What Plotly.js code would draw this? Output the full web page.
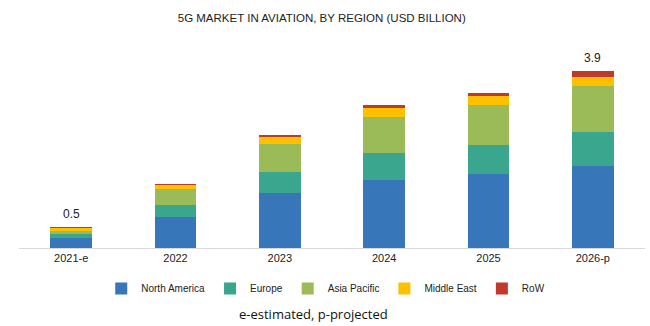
<!DOCTYPE html>
<html>
<head>
<meta charset="utf-8">
<script src="https://cdn.plot.ly/plotly-3.0.1.min.js"></script>
<style>html,body{margin:0;padding:0;background:#fff;}#chart{width:650px;height:326px;}</style>
</head>
<body>
<div id="chart"></div>
<script>
const categories = ["2021-e", "2022", "2023", "2024", "2025", "2026-p"];
const northAmerica = [0.23, 0.68, 1.21, 1.51, 1.63, 1.82];
const europe = [0.07, 0.27, 0.47, 0.59, 0.65, 0.74];
const asiaPacific = [0.08, 0.36, 0.62, 0.79, 0.87, 1.01];
const middleEast = [0.07, 0.08, 0.15, 0.20, 0.20, 0.21];
const row = [0.02, 0.02, 0.04, 0.06, 0.08, 0.12];
const totalLabels = ["0.5", "", "", "", "", "3.9"];

const series = [
  {name: "North America", y: northAmerica, color: "#3776b8"},
  {name: "Europe", y: europe, color: "#3aa68e"},
  {name: "Asia Pacific", y: asiaPacific, color: "#9bbb59"},
  {name: "Middle East", y: middleEast, color: "#ffc000"},
  {name: "RoW", y: row, color: "#c0392b"}
];

const traces = series.map(s => ({
  type: "bar", name: s.name, x: categories, y: s.y,
  marker: {color: s.color, line: {width: 0}},
  hoverinfo: "x+y+name"
}));

const totals = categories.map((c, i) => series.reduce((a, s) => a + s.y[i], 0));
const annotations = categories.map((c, i) => ({
  x: c, y: totals[i], text: totalLabels[i], showarrow: false,
  yanchor: "bottom", yshift: 4, font: {family: "Liberation Sans, Arial", size: 12, color: "#222"}
})).filter(a => a.text !== "");
annotations.push({
  xref: "paper", yref: "paper", x: 0.47, y: -0.318, xanchor: "center", yanchor: "middle",
  text: "e-estimated, p-projected", showarrow: false,
  font: {family: "Open Sans, Liberation Sans", size: 13, color: "#111"}
});

const layout = {
  width: 650, height: 326,
  margin: {l: 19, r: 5, t: 40, b: 78},
  paper_bgcolor: "#fff", plot_bgcolor: "#fff",
  barmode: "stack", bargap: 0.6,
  title: {text: "5G MARKET IN AVIATION, BY REGION (USD BILLION)", x: 0.495, xanchor: "center", y: 0.945, yanchor: "middle",
    font: {family: "Liberation Sans Narrow, Liberation Sans", size: 11.5, color: "#222"}},
  xaxis: {type: "category", showgrid: false, showline: true, linecolor: "#d9d9d9", linewidth: 1, ticks: "",
    tickfont: {family: "Liberation Sans, Arial", size: 11, color: "#222"}},
  yaxis: {range: [0, 4.59], visible: false, showgrid: false, zeroline: false},
  showlegend: true,
  legend: {orientation: "h", x: 0.49, xanchor: "center", y: -0.125, yanchor: "top",
    font: {family: "Liberation Sans, Arial", size: 10, color: "#222"}, itemwidth: 30, traceorder: "normal"},
  annotations: annotations
};

Plotly.newPlot("chart", traces, layout, {displayModeBar: false, staticPlot: true});
</script>
</body>
</html>
